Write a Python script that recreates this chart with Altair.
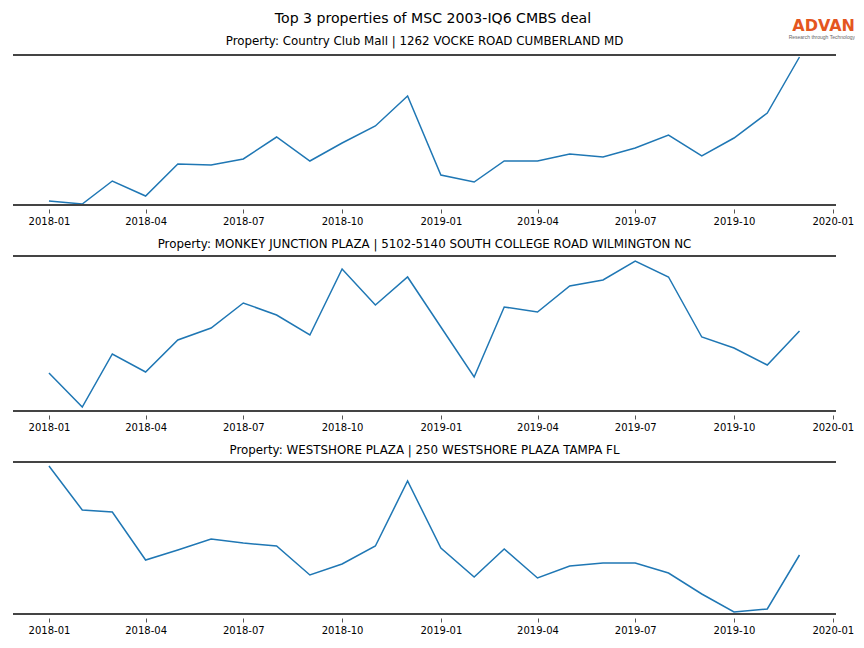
import altair as alt
import pandas as pd

months = [f"{y}-{m:02d}-01T00:00:00" for y in (2018, 2019) for m in range(1, 13)]

main_title = "Top 3 properties of MSC 2003-IQ6 CMBS deal"
titles = [
    "Property: Country Club Mall | 1262 VOCKE ROAD CUMBERLAND MD",
    "Property: MONKEY JUNCTION PLAZA | 5102-5140 SOUTH COLLEGE ROAD WILMINGTON NC",
    "Property: WESTSHORE PLAZA | 250 WESTSHORE PLAZA TAMPA FL",
]

country_club = [4, 1, 24, 9, 41, 40, 46, 68, 44, 62, 79, 109,
                30, 23, 44, 44, 51, 48, 57, 70, 49, 67, 92, 148]
monkey_junction = [38, 4, 57, 39, 71, 83, 108, 96, 76, 142, 106, 134,
                   84, 34, 104, 99, 125, 131, 150, 134, 74, 63, 46, 80]
westshore = [148, 104, 102, 54, 64, 75, 71, 68, 39, 50, 68, 133,
             66, 37, 65, 36, 48, 51, 51, 41, 20, 2, 5, 59]

series = [country_club, monkey_junction, westshore]
y_max = [150, 155, 152]
heights = [150, 155, 152]

W = 823
FONT = "DejaVu Sans"
SPINE = "#444444"

tick_vals = [alt.DateTime(year=y, month=m, date=1)
             for (y, m) in [(2018, 1), (2018, 4), (2018, 7), (2018, 10),
                            (2019, 1), (2019, 4), (2019, 7), (2019, 10), (2020, 1)]]
x_domain = [alt.DateTime(year=2017, month=11, date=28, hours=12),
            alt.DateTime(year=2020, month=1, date=4)]

one = pd.DataFrame({"a": [0]})


def panel(values, title, h, ymax, first=False):
    df = pd.DataFrame({"month": months, "value": values})
    line = alt.Chart(df).mark_line(color="#1f77b4", strokeWidth=1.5).encode(
        x=alt.X("month:T", title=None,
                scale=alt.Scale(domain=x_domain),
                axis=alt.Axis(values=tick_vals, format="%Y-%m", grid=False,
                              domain=False, offset=4, tickSize=4,
                              tickColor="#555555", labelPadding=3,
                              labelFont=FONT, labelFontSize=10,
                              labelColor="#000000", labelFlush=False)),
        y=alt.Y("value:Q", axis=None,
                scale=alt.Scale(domain=[0, ymax], nice=False, zero=False)),
    )
    top = alt.Chart(one).mark_rule(color=SPINE, strokeWidth=2).encode(
        x=alt.value(0), x2=alt.value(W), y=alt.value(0))
    bottom = alt.Chart(one).mark_rule(color=SPINE, strokeWidth=2).encode(
        x=alt.value(0), x2=alt.value(W), y=alt.value(h))
    layers = [line, top, bottom]
    if first:
        head = alt.Chart(one).mark_text(font=FONT, fontSize=14.1, color="#000000",
                                        align="center", baseline="alphabetic").encode(
            x=alt.value(420), y=alt.value(-32), text=alt.value(main_title))
        sub = alt.Chart(one).mark_text(font=FONT, fontSize=11.85, color="#000000",
                                       align="center", baseline="alphabetic").encode(
            x=alt.value(W / 2), y=alt.value(-10), text=alt.value(title))
        logo = alt.Chart(one).mark_text(font=FONT, fontSize=16, fontWeight="bold",
                                        color="#e4561f", align="right",
                                        baseline="alphabetic").encode(
            x=alt.value(842), y=alt.value(-24.5), text=alt.value("ADVAN"))
        logo_sub = alt.Chart(one).mark_text(font="Liberation Sans", fontSize=5,
                                            color="#666666", align="right",
                                            baseline="alphabetic").encode(
            x=alt.value(842), y=alt.value(-16),
            text=alt.value("Research through Technology"))
        layers += [head, sub, logo, logo_sub]
        return alt.layer(*layers).properties(width=W, height=h)
    return alt.layer(*layers).properties(
        width=W, height=h,
        title=alt.TitleParams(title, font=FONT, fontSize=11.85, fontWeight="normal",
                              offset=4, anchor="middle", color="#000000"))


panels = [panel(series[i], titles[i], heights[i], y_max[i], first=(i == 0))
          for i in range(3)]

chart = alt.vconcat(*panels, spacing=13).properties(
    padding={"left": 4, "top": 4, "right": 0, "bottom": 2}
).configure_view(stroke=None)

chart.save("out.html", embed_options={"renderer": "svg", "actions": False})
